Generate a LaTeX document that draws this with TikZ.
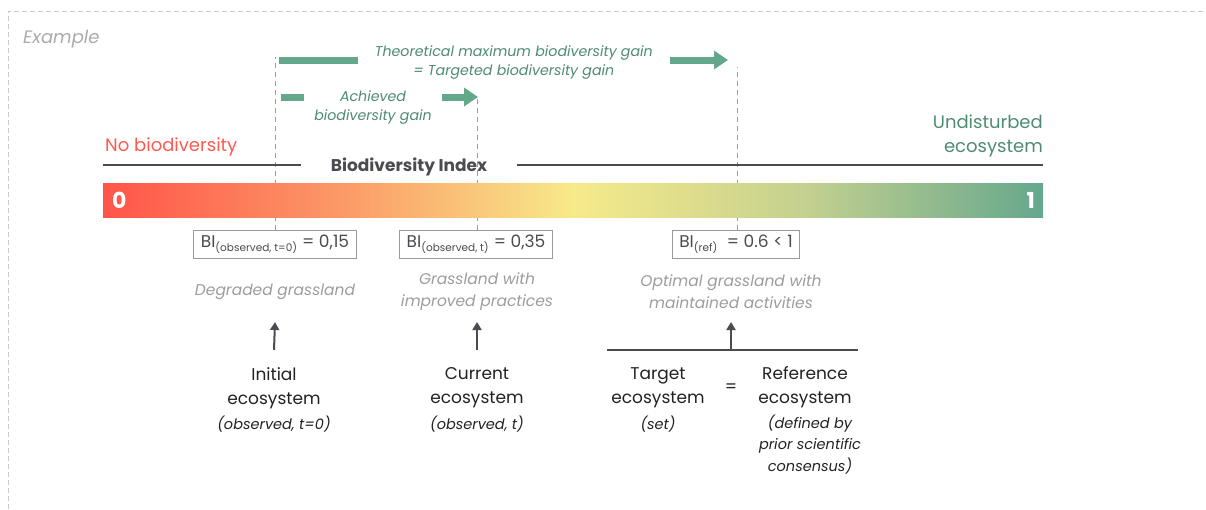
\documentclass[tikz,border=0pt]{standalone}
\usepackage{fontspec}
\setmainfont{Poppins}
\usetikzlibrary{arrows.meta,positioning}

\definecolor{biored}{HTML}{FF5449}
\definecolor{bioorange}{HTML}{FC9866}
\definecolor{bioyellow}{HTML}{F7EA89}
\definecolor{biolime}{HTML}{C3D08F}
\definecolor{biogreen}{HTML}{65A78D}
\definecolor{gaingreen}{HTML}{64A88C}
\definecolor{gaintext}{HTML}{4E8C72}
\definecolor{nobio}{HTML}{FF5A4E}
\definecolor{inkgray}{HTML}{4B4B52}
\definecolor{boxgray}{HTML}{9A9A9A}
\definecolor{descgray}{HTML}{9C9C9C}
\definecolor{framegray}{HTML}{C8C8C8}
\definecolor{labelink}{HTML}{222222}

\pgfdeclarehorizontalshading{biograd}{100bp}{color(0bp)=(biored); color(25bp)=(biored); color(37.5bp)=(bioorange); color(50bp)=(bioyellow); color(62.5bp)=(biolime); color(75bp)=(biogreen); color(100bp)=(biogreen)}

\newcommand{\bisub}[1]{\textsubscript{\fontsize{10.5}{12}\selectfont #1}}

\tikzstyle{bibox} = [rectangle, draw=boxgray, line width=1pt, text=inkgray, minimum height=28pt, inner xsep=7pt, fill=white, font=\fontsize{17}{20}\selectfont]
\tikzstyle{desc} = [text=descgray, align=center, inner sep=0pt, font=\itshape\fontsize{15.5}{22}\selectfont]
\tikzstyle{ecolabel} = [text=labelink, align=center, inner sep=0pt, font=\fontsize{17}{24}\selectfont]
\tikzstyle{ecosub} = [text=labelink, align=center, inner sep=0pt, font=\itshape\fontsize{14.5}{21.5}\selectfont]
\tikzstyle{gainlabel} = [text=gaintext, fill=white, align=center, font=\itshape\fontsize{14.2}{19}\selectfont]
\tikzstyle{digit} = [text=white, inner sep=0pt, font=\bfseries\fontsize{22}{26}\selectfont]
\tikzset{gain/.style = {
    draw=gaingreen, line width=7pt,
    -{Triangle[length=14pt, width=18pt]},
  },
  upedge/.style = {
    draw=inkgray, line width=2pt,
    -{Triangle[length=8pt, width=9pt]},
  },
  guide/.style = {draw=descgray, line width=1pt, dash pattern=on 5pt off 4pt},
  axisline/.style = {draw=inkgray, line width=2.5pt}
}

\begin{document}
\begin{tikzpicture}[x=1pt, y=-1pt]
  \useasboundingbox (0,0) rectangle (1206,509);

  % frame
  \coordinate (fbl) at (8,509);
  \coordinate (ftl) at (8,11);
  \coordinate (ftr) at (1206,11);
  \draw[framegray, line width=1pt, dash pattern=on 5pt off 3pt] (fbl) -- (ftl) -- (ftr);
  \node[anchor=west, inner sep=0pt, text=descgray!85, font=\itshape\fontsize{18}{20}\selectfont] (example) at (23,39) {Example};

  % vertices
  \node[bibox] (bi0) at (275,244) {BI\bisub{(observed, t=0)} = 0,15};
  \node[bibox] (bi1) at (476,244) {BI\bisub{(observed, t)} = 0,35};
  \node[bibox] (bi2) at (736,244) {BI\bisub{(ref)}\ \ = 0.6 < 1};

  \coordinate (top0) at (275,57);
  \coordinate (top1) at (477,95);
  \coordinate (top2) at (737,67);

  \draw[guide] (bi0.north) -- (bi0.north |- top0);
  \draw[guide] (top1 |- bi1.north) -- (top1);
  \draw[guide] (top2 |- bi2.north) -- (top2);

  \node[rectangle, minimum width=940pt, minimum height=34pt, inner sep=0pt, shade, shading=biograd] (bar) at (573,200) {};
  \node[digit, right=9pt of bar.west] (zero) {0};
  \node[digit, left=8pt of bar.east] (one) {1};

  \node[font=\bfseries\fontsize{17}{20}\selectfont, text=inkgray, inner xsep=30pt, inner ysep=0pt] (bindex) at (409,167) {Biodiversity Index};
  \coordinate (axl) at (103,165);
  \coordinate (axr) at (1043,165);

  \node[anchor=west, inner sep=0pt, text=nobio, font=\fontsize{18}{22}\selectfont] (nobio) at (105,147) {No biodiversity};
  \node[anchor=east, inner sep=0pt, align=right, text=gaintext, font=\fontsize{18}{24}\selectfont] (undist) at (1043,136) {Undisturbed\\ecosystem};

  \node[desc] (degr) at (275,292) {Degraded grassland};
  \node[desc] (impr) at (477,292) {Grassland with\\improved practices};
  \node[desc] (optim) at (731,292) {Optimal grassland with\\maintained activities};

  \node[ecolabel] (init) at (274,388) {Initial\\ecosystem};
  \node[ecosub] (initsub) at (274,424) {(observed, t=0)};
  \node[ecolabel] (curr) at (477,388) {Current\\ecosystem};
  \node[ecosub] (currsub) at (477,424) {(observed, t)};
  \node[ecolabel] (tgt) at (658,388) {Target\\ecosystem};
  \node[ecosub] (tgtsub) at (658,424) {(set)};
  \node[ecolabel] (eq) at (731,388) {=};
  \node[ecolabel] (ref) at (805,387) {Reference\\ecosystem};
  \node[ecosub] (refsub) at (810,444.5) {(defined by\\prior scientific\\consensus)};

  \coordinate (gmaxs) at (279,60);
  \coordinate (gmaxe) at (728,60);
  \coordinate (gachs) at (281,97);
  \coordinate (gache) at (478,97);
  \coordinate (tgtl) at (607,350);
  \coordinate (tgtr) at (858,350);
  \coordinate (join) at (731,350);

  % edges
  \draw[axisline] (axl) -- (bindex.west |- axl);
  \draw[axisline] (bindex.east |- axr) -- (axr);
  \draw[gain] (gmaxs) -- node[gainlabel, pos=0.523, yshift=-2.5pt, inner xsep=17pt] (gmax) {Theoretical maximum biodiversity gain\\= Targeted biodiversity gain} (gmaxe);
  \draw[gain] (gachs) -- node[gainlabel, pos=0.467, yshift=-11pt, inner xsep=10pt] (gach) {Achieved\\biodiversity gain} (gache);

  \draw[upedge] ([yshift=38pt]init.center) -- ([yshift=-30pt]degr.center);
  \draw[upedge] ([yshift=38pt]curr.center) -- ([yshift=-30pt]impr.center);
  \draw[inkgray, line width=2pt] (tgtl) -- (tgtr);
  \draw[upedge] (join) -- ([yshift=-30pt]optim.center);

\end{tikzpicture}
\end{document}
